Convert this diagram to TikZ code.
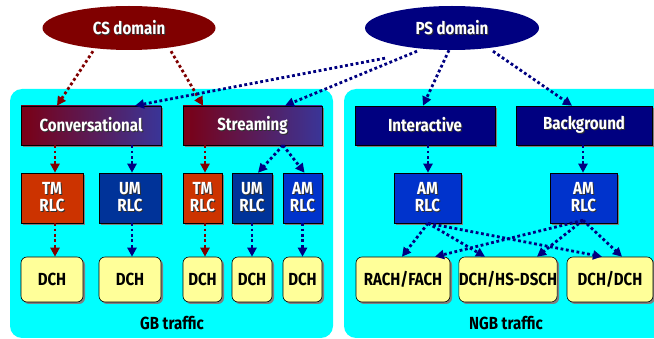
\documentclass[tikz,border=0pt]{standalone}
\usepackage{fontspec}
\setmainfont[FakeStretch=0.86]{Fira Sans}
\usetikzlibrary{arrows.meta,shapes.geometric,shadows}

\definecolor{csred}{HTML}{800000}
\definecolor{psblue}{HTML}{000080}
\definecolor{gradred}{HTML}{7A0015}
\definecolor{gradblue}{HTML}{3A3598}
\definecolor{tmred}{HTML}{CC3300}
\definecolor{umblue}{HTML}{003399}
\definecolor{amblue}{HTML}{0033CC}
\definecolor{chyellow}{HTML}{FFFF99}
\definecolor{panelcyan}{HTML}{00FFFF}
\definecolor{txtshade}{HTML}{303030}

% white lettering with a small dark offset shadow
\newcommand\shd[1]{\leavevmode\rlap{\kern1pt\raisebox{-1pt}{\textcolor{txtshade}{#1}}}#1}

\tikzset{
  lbl/.style={font=\fontsize{17.5}{17.5}\selectfont\bfseries},
  domainnode/.style={ellipse, inner sep=0pt, text=white, lbl},
  boxshadow/.style={drop shadow={shadow xshift=2pt, shadow yshift=-2pt, fill=black!50, opacity=1}},
  classbox/.style={rectangle, draw=black, line width=0.6pt, inner sep=0pt,
    minimum height=39pt, text=white, lbl, boxshadow},
  rlcbox/.style={rectangle, draw=black, line width=0.6pt, inner sep=0pt,
    minimum height=50pt, text=white, lbl, align=center, boxshadow,
    font=\fontsize{17.5}{17}\selectfont\bfseries},
  chbox/.style={rectangle, rounded corners=6pt, draw=black, line width=0.6pt,
    fill=chyellow, inner sep=0pt, minimum height=45pt, text=black, lbl, boxshadow},
  flowline/.style={line width=2.8pt, dash pattern=on 2.8pt off 2.6pt,
    -{Triangle[length=9pt,width=9pt]}},
  csflow/.style={flowline, draw=csred, color=csred},
  psflow/.style={flowline, draw=psblue, color=psblue},
}

\begin{document}
\begin{tikzpicture}[x=1pt, y=-1pt]
\useasboundingbox (0,0) rectangle (654,339);
\clip (0,0) rectangle (654,339);

% traffic panels
\fill[panelcyan, rounded corners=12pt] (10,89) rectangle (333,338);
\fill[panelcyan, rounded corners=12pt] (344,89) rectangle (680,338);
\node[lbl] (gb) at (172,323) {GB traffic};
\node[lbl] (ngb) at (506,323) {NGB traffic};

% core network domains
\node[domainnode, fill=csred, minimum width=173pt, minimum height=44pt] (cs) at (129,28) {\shd{CS domain}};
\node[domainnode, fill=psblue, minimum width=174pt, minimum height=44pt] (ps) at (452,28) {\shd{PS domain}};

% traffic classes
\node[classbox, minimum width=140pt, left color=gradred, right color=gradblue] (conv) at (91,125.5) {\shd{Conversational}};
\node[classbox, minimum width=139pt, left color=gradred, right color=gradblue] (strm) at (252.5,125.5) {\shd{Streaming}};
\node[classbox, minimum width=140pt, fill=psblue] (inter) at (425,125.5) {\shd{Interactive}};
\node[classbox, minimum width=136pt, fill=psblue] (back) at (584,125.5) {\shd{Background}};

% RLC entities
\node[rlcbox, minimum width=62pt, fill=tmred] (tma) at (52,198) {\shd{TM}\\\shd{RLC}};
\node[rlcbox, minimum width=62pt, fill=umblue] (uma) at (130,198) {\shd{UM}\\\shd{RLC}};
\node[rlcbox, minimum width=39pt, fill=tmred] (tmb) at (202.5,198) {\shd{TM}\\\shd{RLC}};
\node[rlcbox, minimum width=40pt, fill=umblue] (umb) at (252,198) {\shd{UM}\\\shd{RLC}};
\node[rlcbox, minimum width=39pt, fill=amblue] (ama) at (302.5,198) {\shd{AM}\\\shd{RLC}};
\node[rlcbox, minimum width=67pt, fill=amblue] (ami) at (427.5,198) {\shd{AM}\\\shd{RLC}};
\node[rlcbox, minimum width=67pt, fill=amblue] (amb) at (583.5,198) {\shd{AM}\\\shd{RLC}};

% transport channels
\node[chbox, minimum width=62pt] (cha) at (52,279.5) {DCH};
\node[chbox, minimum width=62pt] (chb) at (130,279.5) {DCH};
\node[chbox, minimum width=39pt] (chc) at (202.5,279.5) {DCH};
\node[chbox, minimum width=40pt] (chd) at (252,279.5) {DCH};
\node[chbox, minimum width=39pt] (che) at (302.5,279.5) {DCH};
\node[chbox, minimum width=94pt] (rach) at (403,279.5) {RACH/FACH};
\node[chbox, minimum width=96pt] (hsd) at (508,279.5) {DCH/HS-DSCH};
\node[chbox, minimum width=86pt] (dd) at (610,279.5) {DCH/DCH};

% domain to class mappings
\draw[csflow] ([xshift=-36pt,yshift=-1pt]cs.south) -- ([xshift=-34pt]conv.north);
\draw[csflow] ([xshift=42pt,yshift=-1pt]cs.south) -- ([xshift=-49.5pt]strm.north);
\draw[psflow] ([xshift=-67pt,yshift=-8pt]ps.south) -- ([xshift=44pt]conv.north);
\draw[psflow] ([xshift=-35pt,yshift=-1pt]ps.south) -- ([xshift=32.5pt]strm.north);
\draw[psflow] ([xshift=-3pt]ps.south) -- ([xshift=-2pt]inter.north);
\draw[psflow] ([xshift=41pt,yshift=-1pt]ps.south) -- ([xshift=-12pt]back.north);

% class to RLC mappings
\draw[csflow] ([xshift=-36pt]conv.south) -- ([xshift=3pt]tma.north);
\draw[psflow] ([xshift=41pt]conv.south) -- ([xshift=2pt]uma.north);
\draw[csflow] ([xshift=-47.5pt]strm.south) -- ([xshift=2.5pt]tmb.north);
\draw[psflow] ([xshift=30.5pt]strm.south) -- ([xshift=6pt]umb.north);
\draw[psflow] ([xshift=30.5pt]strm.south) -- ([xshift=2pt]ama.north);
\draw[psflow] ([xshift=3pt]inter.south) -- ([xshift=0.5pt]ami.north);
\draw[psflow] ([xshift=-1pt]back.south) -- ([xshift=-0.5pt]amb.north);

% RLC to transport channel mappings
\draw[csflow] ([xshift=3pt]tma.south) -- ([xshift=3pt]cha.north);
\draw[psflow] ([xshift=2pt]uma.south) -- ([xshift=2pt]chb.north);
\draw[csflow] ([xshift=2.5pt]tmb.south) -- ([xshift=2.5pt]chc.north);
\draw[psflow] (umb.south) -- (chd.north);
\draw[psflow] (ama.south) -- (che.north);
\draw[psflow] ([xshift=0.5pt]ami.south) -- ([xshift=-1pt]rach.north);
\draw[psflow] ([xshift=0.5pt]ami.south) -- ([xshift=-23pt]hsd.north);
\draw[psflow] ([xshift=0.5pt]ami.south) -- ([xshift=-8pt]dd.north);
\draw[psflow] ([xshift=-0.5pt,yshift=3pt]amb.south) -- ([xshift=32pt]rach.north);
\draw[psflow] ([xshift=-0.5pt,yshift=3pt]amb.south) -- ([xshift=29pt]hsd.north);
\draw[psflow] ([xshift=-0.5pt,yshift=3pt]amb.south) -- ([xshift=12pt]dd.north);
\end{tikzpicture}
\end{document}
